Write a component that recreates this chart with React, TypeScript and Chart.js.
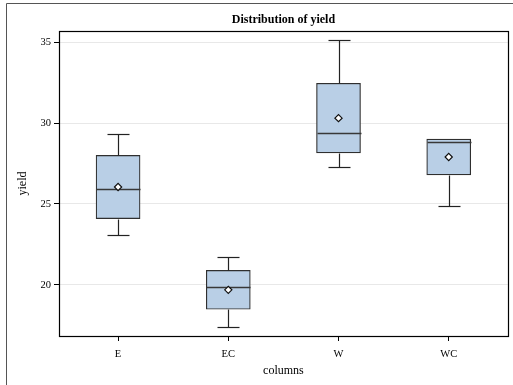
import React, { useEffect, useRef } from 'react';
import { Chart, registerables } from 'chart.js';

Chart.register(...registerables);

const categories = ['E', 'EC', 'W', 'WC'];
const whiskerLow = [23.1, 17.4, 27.3, 24.9];
const q1 = [24.1, 18.5, 28.15, 26.8];
const median = [25.9, 19.9, 29.4, 28.85];
const q3 = [28.0, 20.9, 32.45, 29.0];
const whiskerHigh = [29.3, 21.7, 35.1, 29.0];
const means = [26.05, 19.7, 30.3, 27.9];
const yTicks = [20, 25, 30, 35];

const FONT = 'Liberation Serif';

const boxExtras = {
  id: 'boxExtras',
  afterDatasetDraw(chart: any, args: any) {
    if (args.index !== 0) return;
    const { ctx } = chart;
    const x = chart.scales.x;
    const y = chart.scales.y;
    const meta = chart.getDatasetMeta(0);
    const line = (x1: number, y1: number, x2: number, y2: number) => {
      ctx.beginPath();
      ctx.moveTo(x1, y1);
      ctx.lineTo(x2, y2);
      ctx.stroke();
    };
    ctx.save();
    categories.forEach((_, i) => {
      const el = meta.data[i];
      const cx = Math.round(x.getPixelForValue(i)) + 0.5;
      const half = el.width / 2;
      const cap = half / 2;
      const py = (v: number) => Math.round(y.getPixelForValue(v)) + 0.5;
      ctx.strokeStyle = '#222';
      ctx.lineWidth = 1.2;
      if (whiskerHigh[i] > q3[i]) {
        line(cx, py(q3[i]), cx, py(whiskerHigh[i]));
        line(cx - cap, py(whiskerHigh[i]), cx + cap, py(whiskerHigh[i]));
      }
      if (whiskerLow[i] < q1[i]) {
        line(cx, py(q1[i]), cx, py(whiskerLow[i]));
        line(cx - cap, py(whiskerLow[i]), cx + cap, py(whiskerLow[i]));
      }
      ctx.strokeStyle = '#383838';
      ctx.lineWidth = 1.5;
      line(cx - half, py(median[i]), cx + half, py(median[i]));
    });
    ctx.restore();
  },
  afterDraw(chart: any) {
    const { ctx, chartArea } = chart;
    ctx.save();
    ctx.strokeStyle = '#000';
    ctx.lineWidth = 1.2;
    ctx.strokeRect(
      Math.round(chartArea.left) + 0.5,
      Math.round(chartArea.top) + 0.5,
      Math.round(chartArea.right - chartArea.left),
      Math.round(chartArea.bottom - chartArea.top)
    );
    ctx.strokeStyle = '#555';
    ctx.lineWidth = 1;
    ctx.beginPath();
    ctx.moveTo(6.5, chart.height);
    ctx.lineTo(6.5, 3.5);
    ctx.lineTo(chart.width, 3.5);
    ctx.stroke();
    ctx.restore();
  },
};

export default function App() {
  const canvasRef = useRef<HTMLCanvasElement>(null);

  useEffect(() => {
    document.body.style.margin = '0';
    const chart = new Chart(canvasRef.current as HTMLCanvasElement, {
      type: 'bar',
      data: {
        datasets: [
          {
            type: 'bar',
            order: 1,
            data: categories.map((_, i) => ({ x: i, y: [q1[i], q3[i]] })) as any,
            backgroundColor: '#b9cfe6',
            borderColor: '#2f2f2f',
            borderWidth: 1.2,
            borderSkipped: false,
            barThickness: 44,
            grouped: false,
          } as any,
          {
            type: 'scatter',
            order: 0,
            data: categories.map((_, i) => ({ x: i, y: means[i] })),
            pointStyle: 'rectRot',
            pointRadius: 3.6,
            pointBorderColor: '#111',
            pointBackgroundColor: '#ffffff',
            pointBorderWidth: 1.2,
            showLine: false,
          } as any,
        ],
      },
      options: {
        responsive: false,
        animation: false,
        devicePixelRatio: 1,
        layout: { padding: { left: 0, right: 5, top: 0, bottom: 0 } },
        plugins: {
          legend: { display: false },
          tooltip: { enabled: false },
          title: {
            display: true,
            text: 'Distribution of yield',
            color: '#000',
            font: { family: FONT, size: 12, weight: 'bold' },
            padding: { top: 12.5, bottom: 4.1 },
            fullSize: false,
          } as any,
        },
        scales: {
          x: {
            type: 'linear',
            min: -0.536,
            max: 3.536,
            offset: false,
            afterBuildTicks: (axis: any) => {
              axis.ticks = categories.map((_, i) => ({ value: i }));
            },
            afterFit: (axis: any) => {
              axis.height = 49;
            },
            ticks: {
              callback: (v: any) => categories[v] ?? '',
              color: '#000',
              font: { family: FONT, size: 10.5 },
              padding: 7,
              maxRotation: 0,
              autoSkip: false,
            },
            grid: {
              offset: false,
              drawOnChartArea: false,
              drawTicks: true,
              tickLength: 5,
              tickColor: '#000',
            },
            border: { display: false },
            title: {
              display: true,
              text: 'columns',
              color: '#000',
              font: { family: FONT, size: 12 },
              padding: { top: 0, bottom: 7 },
            },
          },
          y: {
            type: 'linear',
            min: 16.85,
            max: 35.68,
            afterBuildTicks: (axis: any) => {
              axis.ticks = yTicks.map((v) => ({ value: v }));
            },
            afterFit: (axis: any) => {
              axis.width = 59;
            },
            ticks: {
              color: '#000',
              font: { family: FONT, size: 10.5 },
              padding: 3,
            },
            grid: {
              color: '#e8e8e8',
              drawTicks: true,
              tickLength: 5,
              tickColor: '#000',
            },
            border: { display: false },
            title: {
              display: true,
              text: 'yield',
              color: '#000',
              font: { family: FONT, size: 12 },
              padding: { top: 15.8, bottom: 0 },
            },
          },
        },
      } as any,
      plugins: [boxExtras as any],
    });
    return () => chart.destroy();
  }, []);

  return (
    <div style={{ width: 513, height: 385 }}>
      <canvas ref={canvasRef} width={513} height={385} style={{ display: 'block' }} />
    </div>
  );
}
